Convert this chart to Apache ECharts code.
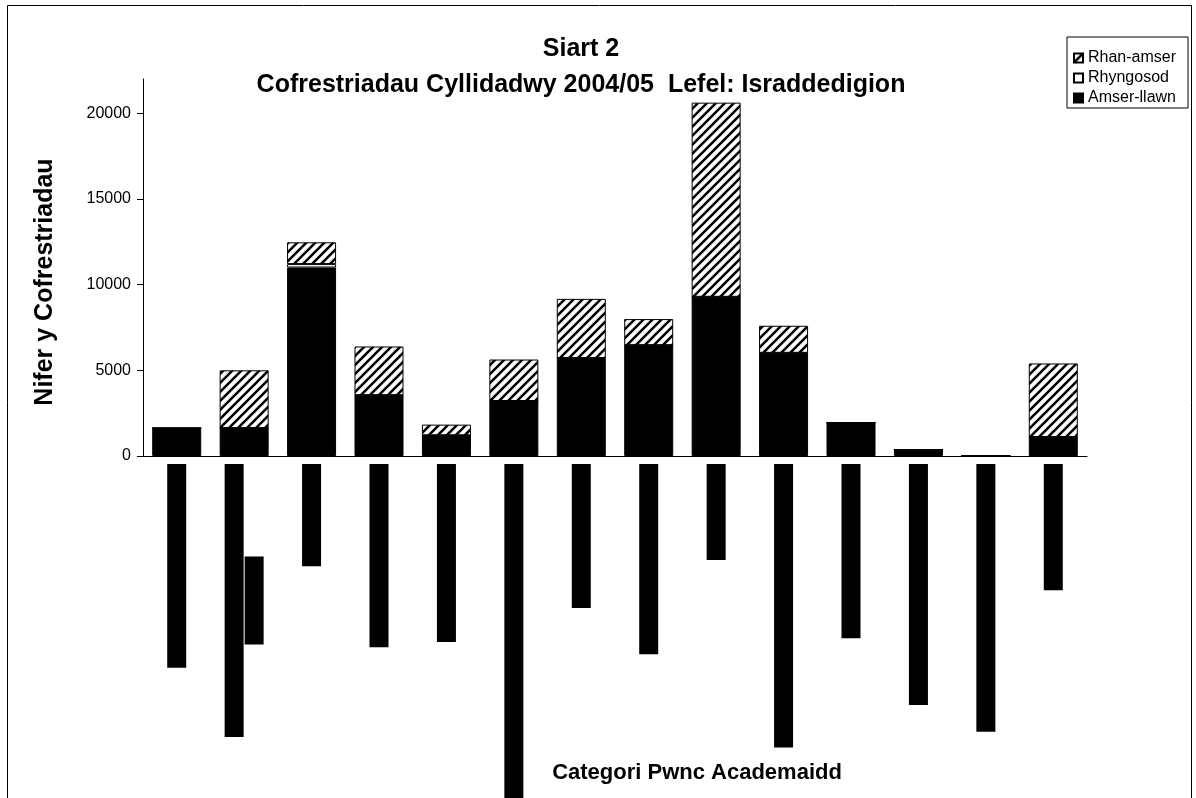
<!DOCTYPE html>
<html>
<head>
<meta charset="utf-8">
<title>Siart 2</title>
<script src="https://cdn.jsdelivr.net/npm/echarts@6/dist/echarts.min.js"></script>
<style>
  html, body { margin: 0; padding: 0; background: #fff; }
  #chart { width: 1196px; height: 798px; }
</style>
</head>
<body>
<div id="chart"></div>
<script>
  // categorïau pwnc academaidd (labels are blacked out in the source chart)
  var categories = [
    'Meddygaeth a Deintyddiaeth',
    "Pynciau Proffesiynol sy'n gysylltiedig â\nMeddygaeth",
    'Gwyddoniaeth',
    'Gwyddorau Cymdeithasol',
    'Peirianneg a Thechnoleg',
    'Mathemateg, Technoleg Gwybodaeth a Chyfrifiadura',
    'Busnes a Rheolaeth',
    'Ieithoedd, Llên a Diwylliant',
    'Y Dyniaethau',
    'Celfyddydau Creadigol a Pherfformiadol',
    'Addysg Athrawon (HCA)',
    'Milfeddygaeth ac Amaethyddiaeth',
    'Pensaernïaeth, Adeiladu a Chynllunio',
    'Pynciau Amlbwnc'
  ];
  var amserLlawn = [1630, 1630, 11000, 3550, 1210, 3210, 5720, 6470, 9290, 6020, 1950, 370, 0, 1110];
  var rhyngosod = [0, 0, 200, 0, 0, 0, 0, 0, 0, 0, 0, 0, 0, 0];
  var rhanAmser = [0, 3370, 1270, 2840, 620, 2420, 3450, 1520, 11330, 1580, 0, 0, 0, 4290];
  var yTicks = [0, 5000, 10000, 15000, 20000];

  var font = '"Liberation Sans", Arial, sans-serif';

  // diagonal hatch like the Excel fill
  function hatch() {
    var s = 9;
    var c = document.createElement('canvas');
    c.width = s; c.height = s;
    var ctx = c.getContext('2d');
    ctx.fillStyle = '#fff';
    ctx.fillRect(0, 0, s, s);
    ctx.strokeStyle = '#000';
    ctx.lineWidth = 2.6;
    ctx.beginPath();
    ctx.moveTo(-1, s + 1); ctx.lineTo(s + 1, -1);
    ctx.moveTo(-1, 1); ctx.lineTo(1, -1);
    ctx.moveTo(s - 1, s + 1); ctx.lineTo(s + 1, s - 1);
    ctx.stroke();
    return c;
  }

  var chart = echarts.init(document.getElementById('chart'));
  var barW = 49;
  var border = { borderColor: '#000', borderWidth: 1 };

  chart.setOption({
    animation: false,
    textStyle: { fontFamily: font },
    title: {
      text: 'Siart 2\nCofrestriadau Cyllidadwy 2004/05  Lefel: Israddedigion',
      left: 576,
      top: 26,
      textAlign: 'center',
      textStyle: { fontFamily: font, fontSize: 25, fontWeight: 'bold', color: '#000', lineHeight: 36 }
    },
    legend: {
      data: ['Rhan-amser', 'Rhyngosod', 'Amser-llawn'],
      orient: 'vertical',
      left: 1067,
      top: 37,
      icon: 'rect',
      itemWidth: 9,
      itemHeight: 9,
      itemGap: 4,
      padding: [13, 12, 2, 6],
      borderColor: '#000',
      borderWidth: 1,
      borderRadius: 0,
      selectedMode: false,
      textStyle: { fontFamily: font, fontSize: 16, color: '#000' }
    },
    grid: { left: 143, right: 109, top: 79, bottom: 342, outerBoundsMode: 'none' },
    xAxis: {
      type: 'category',
      data: categories,
      axisLine: { lineStyle: { color: '#000', width: 1 } },
      axisTick: { length: 5, lineStyle: { color: '#000' } },
      axisLabel: {
        interval: 0,
        rotate: 90,
        margin: 8,
        formatter: function (v) {
          return v.split('\n').map(function (l) { return '{a|' + l + '}'; }).join('\n');
        },
        rich: {
          a: { fontFamily: font, fontSize: 16, color: '#000', backgroundColor: '#000', height: 19, lineHeight: 20, align: 'center' }
        }
      }
    },
    yAxis: {
      type: 'value',
      min: 0,
      max: 22000,
      interval: 5000,
      splitLine: { show: false },
      axisLine: { show: true, lineStyle: { color: '#000', width: 1 } },
      axisTick: { show: true, length: 6, customValues: yTicks, lineStyle: { color: '#000' } },
      axisLabel: {
        customValues: yTicks,
        margin: 12,
        fontFamily: font,
        fontSize: 16,
        color: '#000',
        formatter: function (v) { return String(v); }
      }
    },
    graphic: [
      {
        type: 'rect', silent: true, z: -1,
        shape: { x: 7.5, y: 5.5, width: 1184, height: 820 },
        style: { fill: 'none', stroke: '#000', lineWidth: 1 }
      },
      {
        type: 'text', silent: true, x: 45, y: 282, rotation: Math.PI / 2,
        style: { text: 'Nifer y Cofrestriadau', fill: '#000', font: 'bold 25px ' + font, align: 'center', verticalAlign: 'middle' }
      },
      {
        type: 'text', silent: true, x: 697, y: 773,
        style: { text: 'Categori Pwnc Academaidd', fill: '#000', font: 'bold 22px ' + font, align: 'center', verticalAlign: 'middle' }
      }
    ],
    series: [
      {
        name: 'Amser-llawn', type: 'bar', stack: 'cyfanswm', barWidth: barW,
        itemStyle: Object.assign({ color: '#000' }, border),
        data: amserLlawn
      },
      {
        name: 'Rhyngosod', type: 'bar', stack: 'cyfanswm', barWidth: barW,
        itemStyle: Object.assign({ color: '#fff' }, border),
        data: rhyngosod
      },
      {
        name: 'Rhan-amser', type: 'bar', stack: 'cyfanswm', barWidth: barW,
        itemStyle: Object.assign({ color: { image: hatch(), repeat: 'repeat' } }, border),
        data: rhanAmser
      }
    ]
  });
</script>
</body>
</html>
